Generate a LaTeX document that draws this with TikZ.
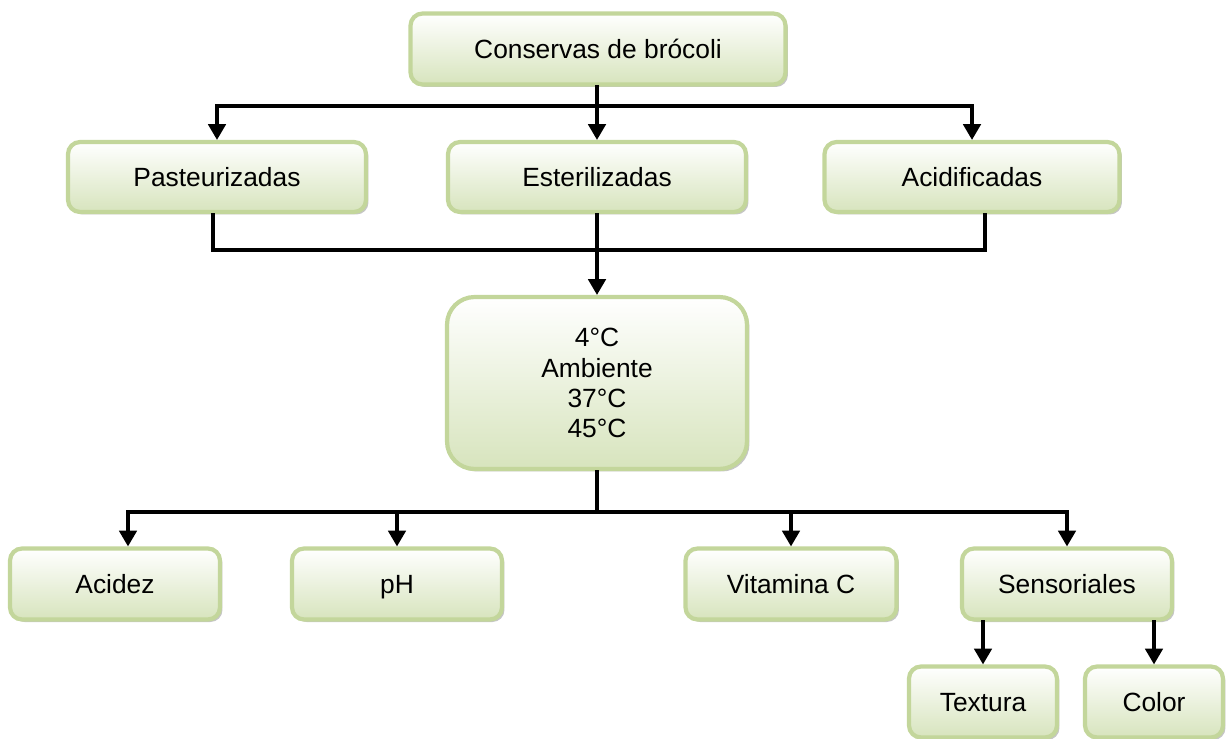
\documentclass[tikz,border=0pt]{standalone}
\usepackage{fontspec}
\setmainfont{Liberation Sans}
\usetikzlibrary{arrows.meta,shadows}
\definecolor{boxline}{HTML}{C3D69B}
\definecolor{boxfill}{HTML}{D7E4BD}

\begin{document}
\begin{tikzpicture}[x=0.02cm,y=-0.02cm,
	box/.style={draw=boxline,line width=2.4pt,rounded corners=0.24cm,top color=white,bottom color=boxfill,
		drop shadow={shadow xshift=0.05cm,shadow yshift=-0.05cm,fill=black!45},
		minimum height=1.42cm,align=center,text depth=0pt,font=\fontsize{15}{17.3}\selectfont},
	line/.style={line width=1.8pt,line cap=rect},
	arr/.style={line,-{Triangle[width=10pt,length=9pt]}}]
	\useasboundingbox (0,0) rectangle (1228,738);
	\node[box,minimum width=7.5cm] (cons) at (598,49) {Conservas de brócoli};
	\node[box,minimum width=5.96cm,minimum height=1.4cm] (pas) at (217,177) {Pasteurizadas};
	\node[box,minimum width=5.96cm,minimum height=1.4cm] (est) at (597,177) {Esterilizadas};
	\node[box,minimum width=5.9cm,minimum height=1.4cm] (aci) at (972,177) {Acidificadas};
	\node[box,minimum width=6cm,minimum height=3.44cm,rounded corners=0.55cm] (temp) at (597,383)
		{4°C\\Ambiente\\37°C\\45°C};
	\node[box,minimum width=4.2cm] (acidez) at (115,584) {Acidez};
	\node[box,minimum width=4.2cm] (ph) at (397,584) {pH};
	\node[box,minimum width=4.22cm] (vitc) at (791,584) {Vitamina C};
	\node[box,minimum width=4.2cm] (sens) at (1067,584) {Sensoriales};
	\node[box,minimum width=2.96cm] (textura) at (983,702) {Textura};
	\node[box,minimum width=2.76cm] (color) at (1154,702) {Color};

	\coordinate (b1) at (597,106);
	\coordinate (b2) at (597,250);
	\coordinate (b3) at (597,512);

	\draw[line] (cons.south -| b1) -- (b1);
	\draw[line] (pas.north |- b1) -- (aci.north |- b1);
	\foreach \n in {pas,est,aci}{
		\draw[arr] (\n.north |- b1) -- (\n.north);
	}
	\draw[line] ([xshift=-0.08cm]pas.south) |- (b2) -| ([xshift=0.26cm]aci.south);
	\draw[line] (est.south) -- (b2);
	\draw[arr] (b2) -- (temp.north);

	\draw[line] (temp.south) -- (b3);
	\draw[line] ([xshift=0.26cm]acidez.north |- b3) -- (sens.north |- b3);
	\draw[arr] ([xshift=0.26cm]acidez.north |- b3) -- ([xshift=0.26cm]acidez.north);
	\foreach \n in {ph,vitc,sens}{
		\draw[arr] (\n.north |- b3) -- (\n.north);
	}
	\foreach \n in {textura,color}{
		\draw[arr] (sens.south -| \n.north) -- (\n.north);
	}
\end{tikzpicture}
\end{document}
